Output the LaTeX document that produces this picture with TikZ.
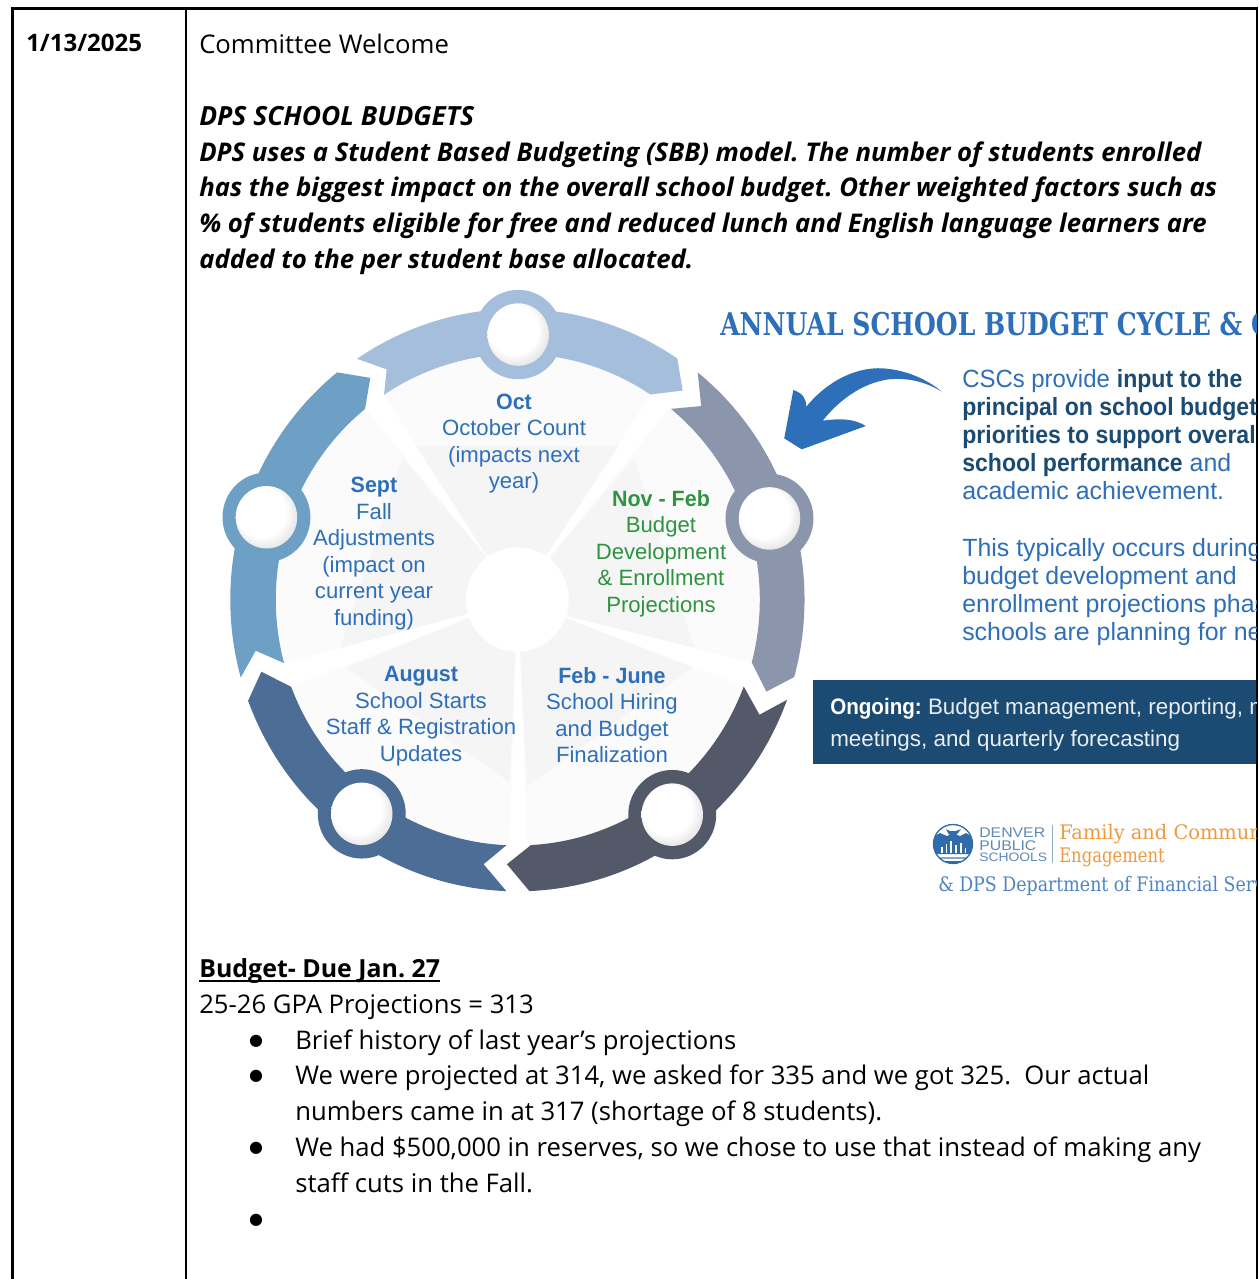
\documentclass[tikz,border=0pt]{standalone}
\usepackage{fontspec}
\usepackage{graphicx}
\setmainfont{Open Sans}
\newfontfamily\wheelfont[BoldFeatures={FakeStretch=0.97}]{Liberation Sans}
\newfontfamily\sidefont[BoldFeatures={FakeStretch=0.925}]{Liberation Sans}
\newfontfamily\ongofont[BoldFeatures={FakeStretch=0.92}]{Liberation Sans}
\newfontfamily\dpsfont[FakeStretch=1.13]{Liberation Sans}
\newfontfamily\slabfont[FakeStretch=0.82]{DejaVu Serif}
\newfontfamily\titlefont[BoldFeatures={FakeStretch=0.80}]{DejaVu Serif}
\newfontfamily\famfont[FakeStretch=0.97]{DejaVu Serif}
\newfontfamily\finfont[FakeStretch=0.87]{DejaVu Serif}
\newfontfamily\bulfont{DejaVu Sans}
\definecolor{cOct}{HTML}{A5BEDB}
\definecolor{cNov}{HTML}{8B96AC}
\definecolor{cFeb}{HTML}{535968}
\definecolor{cAug}{HTML}{4B6D96}
\definecolor{cSep}{HTML}{6DA0C4}
\definecolor{cBlue}{HTML}{2E6FBA}
\definecolor{cGreen}{HTML}{2E9440}
\definecolor{cNavy}{HTML}{1B4B73}
\definecolor{cOrange}{HTML}{EE9A3E}
\definecolor{cLogo}{HTML}{2F6CA9}
\definecolor{cLogoT}{HTML}{5E8AB4}
\definecolor{cPale}{HTML}{FBFBFB}
\definecolor{cPale2}{HTML}{F5F5F5}
\pgfdeclareradialshading{ballshade}{\pgfpoint{-9bp}{9bp}}{color(0bp)=(white);color(20bp)=(white);color(28bp)=(black!10);color(37bp)=(black!32)}
\tikzset{
  body/.style={anchor=base west,inner sep=0pt,font=\fontsize{19.25}{22}\selectfont\frenchspacing,text=black},
  bodyit/.style={body,font=\fontsize{19.3}{22}\selectfont\bfseries\itshape\frenchspacing},
  bodyb/.style={body,font=\fontsize{18.7}{22}\selectfont\bfseries\frenchspacing},
  bull/.style={anchor=center,inner sep=0pt,font=\fontsize{12}{15}\bulfont},
  wheel/.style={align=center,inner sep=0pt,text=cBlue,font=\fontsize{16.6}{19.9}\wheelfont},
  wheelg/.style={wheel,text=cGreen},
  side/.style={anchor=base west,inner sep=0pt,text=cBlue,font=\fontsize{18.7}{21}\sidefont},
  ongoing/.style={anchor=base west,inner sep=0pt,text=white,font=\fontsize{16.8}{20}\ongofont\frenchspacing},
  ball/.style={shading=ballshade,draw=none},
  dps/.style={anchor=base west,inner sep=0pt,text=cLogoT,font=\fontsize{10.5}{12}\dpsfont},
  slab/.style={anchor=base west,inner sep=0pt,font=\fontsize{15}{18}\slabfont},
}
\begin{document}
\begin{tikzpicture}[x=0.75pt,y=-0.75pt]
\useasboundingbox (0,0) rectangle (1259,1279);
\fill[white] (0,0) rectangle (1259,1279);
% table
\draw[line width=2pt,black] (12.5,1279) |- (1257,8.5) -- (1257,1279);
\draw[line width=2pt,black] (186,8.5) -- (186,1279);
% left text
\node[bodyb,font=\fontsize{18}{22}\selectfont\bfseries] (date) at (26,51) {1/13/2025};
\node[body] (welc) at (199,53) {Committee Welcome};
\node[bodyit,font=\fontsize{19.8}{22}\selectfont\bfseries\itshape] (t1) at (199,125) {DPS SCHOOL BUDGETS};
\node[bodyit] (t2) at (199,161) {DPS uses a Student Based Budgeting (SBB) model. The number of students enrolled};
\node[bodyit] (t3) at (199,196) {has the biggest impact on the overall school budget. Other weighted factors such as};
\node[bodyit] (t4) at (199,232) {\% of students eligible for free and reduced lunch and English language learners are};
\node[bodyit] (t5) at (199,268) {added to the per student base allocated.};
\node[bodyb] (b0) at (199,977) {Budget- Due Jan. 27};
\draw[line width=1.5pt] (b0.base west)++(0,3.5) -- ++(240.5,0);
\node[body] (b1) at (199,1013) {25-26 GPA Projections = 313};
\node[body] (b2) at (295,1049) {Brief history of last year’s projections};
\node[body] (b3) at (295,1084) {We were projected at 314, we asked for 335 and we got 325.\ \ Our actual};
\node[body] (b4) at (295,1120) {numbers came in at 317 (shortage of 8 students).};
\node[body] (b5) at (295,1156) {We had \$500,000 in reserves, so we chose to use that instead of making any};
\node[body] (b6) at (295,1192) {staff cuts in the Fall.};
\node[bull] (d1) at (256,1041) {●};
\node[bull] (d2) at (256,1076) {●};
\node[bull] (d3) at (256,1148) {●};
\node[bull] (d4) at (256,1220) {●};
% wheel in zoom units: centre 517.4,599.5 px
\begin{scope}[shift={(517.4*0.75pt,-599.5*0.75pt)},x=0.2918pt,y=0.2966pt]
 % sectors
 \fill[cPale] (-80,113) -- (123.5:622) arc[start angle=123.5,end angle=56.6,radius=622] -- (75,113) -- cycle;
 \fill[cPale] (85,108) -- (51:622) arc[start angle=51,end angle=-14.8,radius=622] -- (130,-42) -- cycle;
 \fill[cPale] (125,-47) -- (-20.7:622) arc[start angle=-20.7,end angle=-87.7,radius=622] -- (7,-132) -- cycle;
 \fill[cPale] (-5,-132) -- (-91.9:622) arc[start angle=-91.9,end angle=-159.2,radius=622] -- (-125,-47) -- cycle;
 \fill[cPale] (-130,-37) -- (195:622) arc[start angle=195,end angle=129,radius=622] -- (-80,108) -- cycle;
 % darker kites
 \fill[cPale2] (-80,113) -- (-260,388) -- (260,388) -- (75,113) -- cycle;
 \fill[cPale2] (85,108) -- (300,358) -- (455,-122) -- (130,-42) -- cycle;
 \fill[cPale2] (125,-47) -- (450,-172) -- (25,-472) -- (7,-132) -- cycle;
 \fill[cPale2] (-5,-132) -- (-20,-462) -- (-440,-172) -- (-125,-47) -- cycle;
 \fill[cPale2] (-130,-37) -- (-455,-122) -- (-295,358) -- (-80,108) -- cycle;
 \fill[white] (0,0) circle (132);
 % ring segments
 \fill[cOct] (124.1:735) arc[start angle=124.1,end angle=56,radius=735] -- (51.2:678) -- (56.6:621) arc[start angle=56.6,end angle=123.5,radius=621] -- (120:672) -- cycle;
 \fill[cNov] (51.1:738) arc[start angle=51.1,end angle=-15.4,radius=738] -- (-20:681) -- (-14.8:623) arc[start angle=-14.8,end angle=50.7,radius=623] -- (46:680) -- cycle;
 \fill[cFeb] (-20.1:738) arc[start angle=-20.1,end angle=-87.6,radius=738] -- (-92.3:670) -- (-86.8:622) arc[start angle=-86.8,end angle=-20.7,radius=622] -- (-25.1:687) -- cycle;
 \fill[cAug] (-92.2:738) arc[start angle=-92.2,end angle=-159.7,radius=738] -- (-164.5:683) -- (-159.2:622) arc[start angle=-159.2,end angle=-92.6,radius=622] -- (-97.4:675) -- cycle;
 \fill[cSep] (195.5:738) arc[start angle=195.5,end angle=128.9,radius=738] -- (124:676) -- (129.1:621) arc[start angle=129.1,end angle=195,radius=621] -- (190.9:685) -- cycle;
 % knobs
 \fill[cOct] (2,670) circle (113);
 \fill[cNov] (648,205) circle (113);
 \fill[cFeb] (398,-544) circle (113);
 \fill[cAug] (-400,-542) circle (113);
 \fill[cSep] (-645,208) circle (113);
 \shade[ball] (2,670) circle (79);
 \shade[ball] (648,205) circle (79);
 \shade[ball] (398,-544) circle (79);
 \shade[ball] (-400,-542) circle (79);
 \shade[ball] (-645,208) circle (79);
\end{scope}
% wheel text
\node[wheel] (oct) at (514,443.5) {\textbf{Oct}\\October Count\\(impacts next\\year)};
\node[wheelg] (nov) at (661,553.5) {\textbf{Nov - Feb}\\Budget\\Development\\\& Enrollment\\Projections};
\node[wheel] (feb) at (612,715) {\textbf{Feb - June}\\School Hiring\\and Budget\\Finalization};
\node[wheel] (aug) at (421,716) {\textbf{August}\\School Starts\\Staff \& Registration\\Updates};
\node[wheel] (sep) at (374,553.5) {\textbf{Sept}\\Fall\\Adjustments\\(impact on\\current year\\funding)};
% blue arrow (zoom units, origin 710,290)
\begin{scope}[shift={(710*0.75pt,-290*0.75pt)},x=0.2626pt,y=-0.25pt]
 \fill[cBlue] (662,305) .. controls (600,250) and (520,232) .. (470,235)
   .. controls (400,240) and (330,280) .. (275,350)
   .. controls (275,325) and (265,310) .. (238,300)
   -- (212,445) -- (262,478) -- (445,408)
   .. controls (410,385) and (370,385) .. (322,392)
   .. controls (365,335) and (430,280) .. (510,268)
   .. controls (570,262) and (620,278) .. (662,305) -- cycle;
\end{scope}
% clipped right side
\begin{scope}
\clip (700,280) rectangle (1256,910);
\node[slab,font=\fontsize{23.5}{28}\titlefont\bfseries,text=cBlue] (title) at (720,335) {ANNUAL SCHOOL BUDGET CYCLE \& C};
\node[side] (s1) at (962,387) {\scalebox{0.96}[1]{CSCs provide} \textcolor{cNavy}{\textbf{input to the}}};
\node[side,text=cNavy] (s2) at (962,415) {\textbf{principal on school budget}};
\node[side,text=cNavy] (s3) at (962,443) {\textbf{priorities to support overall}};
\node[side] (s4) at (962,471) {\textcolor{cNavy}{\textbf{school performance}} and};
\node[side] (s5) at (962,499) {academic achievement.};
\node[side] (s6) at (962,556) {This typically occurs during};
\node[side] (s7) at (962,584) {budget development and};
\node[side] (s8) at (962,612) {enrollment projections phase};
\node[side] (s9) at (962,640) {schools are planning for next};
\fill[cNavy] (813,680) rectangle (1257,764);
\node[ongoing] (o1) at (830,714) {\textbf{Ongoing:} \textcolor{white!90!cNavy}{Budget management, reporting, m}};
\node[ongoing,text=white!90!cNavy] (o2) at (830,746) {meetings, and quarterly forecasting};
% logo
\begin{scope}
\clip (953,844) circle (19.5);
\fill[white] (953,844) circle (19.5);
\fill[cLogo] (930,839) -- (940,833) -- (947,836) -- (953,833.5) -- (960,836) -- (966,833) -- (976,839) -- (976,854) -- (930,854) -- cycle;
\fill[cLogo] (946,829) -- (950,831) -- (956,831) -- (961,829) -- (958,833) -- (955,836) -- (951,836) -- (948,833) -- cycle;
\foreach \xx/\hh in {941/6,945.5/9,950/12,955/8,960/10,964.5/5} {\fill[white] (\xx,853) rectangle ++(1.8,-\hh);}
\fill[cLogo!60!white] (930,856.5) rectangle (976,858.5);
\fill[cLogo] (930,860.5) rectangle (976,864);
\end{scope}
\draw[cLogo,line width=1pt] (953,844) circle (19.5);
\node[dps] (d1l) at (979,837) {DENVER};
\node[dps] (d2l) at (979,850) {PUBLIC};
\node[dps,font=\fontsize{9.2}{11}\dpsfont] (d3l) at (979,861.5) {SCHOOLS};
\draw[cLogoT!70!white,line width=0.8pt] (1052.5,825) -- (1052.5,863);
\node[slab,font=\fontsize{15}{18}\famfont,text=cOrange] (fam) at (1059,839.5) {Family and Community};
\node[slab,text=cOrange] (eng) at (1059,862) {Engagement};
\node[slab,font=\fontsize{15}{18}\finfont,text=cBlue!85!white] (fin) at (938,891.5) {\& DPS Department of Financial Services};
\end{scope}
\end{tikzpicture}
\end{document}
